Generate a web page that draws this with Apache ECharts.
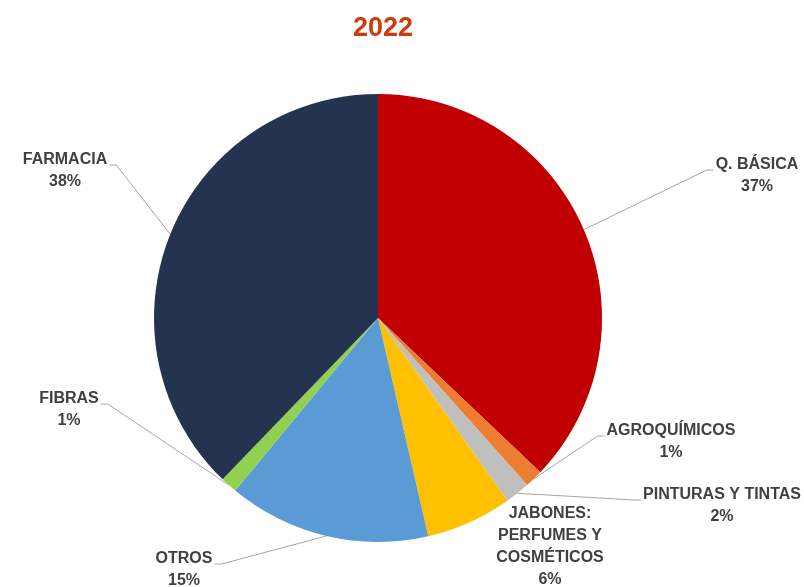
<!DOCTYPE html>
<html>
<head>
<meta charset="utf-8">
<script src="https://cdn.jsdelivr.net/npm/echarts@6/dist/echarts.min.js"></script>
<style>html,body{margin:0;padding:0;background:#fff;}#c{width:804px;height:587px;}</style>
</head>
<body>
<div id="c"></div>
<script>
var categories = ['Q. BÁSICA', 'AGROQUÍMICOS', 'PINTURAS Y TINTAS', 'JABONES: PERFUMES Y COSMÉTICOS', 'OTROS', 'FIBRAS', 'FARMACIA'];
var labelTexts = ['Q. BÁSICA', 'AGROQUÍMICOS', 'PINTURAS Y TINTAS', 'JABONES:\nPERFUMES Y\nCOSMÉTICOS', 'OTROS', 'FIBRAS', 'FARMACIA'];
var values = [37.1, 1.3, 1.8, 6.2, 14.6, 1.2, 37.8];
var colors = ['#C00000', '#ED7D31', '#BFBFBF', '#FFC000', '#5B9BD5', '#92D050', '#243350'];

// label block centres (layout only)
var labelCenters = [[757, 176], [671, 442], [722, 506], [550, 547], [184, 570], [69, 410], [65, 171]];
var LINE_H = 22;

var chart = echarts.init(document.getElementById('c'));
chart.setOption({
  animation: false,
  title: {
    text: '2022', left: 348, top: 10,
    textStyle: { fontFamily: 'Liberation Sans', fontSize: 27, fontWeight: 'bold', color: '#D0390B' }
  },
  series: [{
    type: 'pie',
    center: [378, 318],
    radius: 224,
    startAngle: 90,
    clockwise: true,
    color: colors,
    itemStyle: { borderWidth: 0 },
    label: {
      show: true,
      formatter: function (p) { return labelTexts[p.dataIndex] + '\n' + Math.round(p.percent) + '%'; },
      fontFamily: 'Liberation Sans', fontSize: 16, fontWeight: 'bold', color: '#404040',
      lineHeight: LINE_H, align: 'center'
    },
    labelLine: { show: true, length: 20, length2: 8, lineStyle: { color: '#A6A6A6', width: 1 } },
    labelLayout: function (params) {
      var i = params.dataIndex;
      var c = labelCenters[i];
      var w = params.labelRect.width, h = params.labelRect.height;
      var res = { x: c[0], y: c[1], align: 'center', verticalAlign: 'middle' };
      if (params.labelLinePoints) {
        var anchor = params.labelLinePoints[0];
        var right = c[0] > 378;
        var ex = right ? c[0] - w / 2 - 2 : c[0] + w / 2 + 2;
        var ey = c[1] - h / 2 + LINE_H / 2 + 5;
        var bx = right ? ex - 7 : ex + 7;
        res.labelLinePoints = [anchor, [bx, ey], [ex, ey]];
      }
      return res;
    },
    data: categories.map(function (n, i) {
      var d = { name: n, value: values[i] };
      if (i === 3) d.labelLine = { show: false };
      return d;
    })
  }]
});
</script>
</body>
</html>
